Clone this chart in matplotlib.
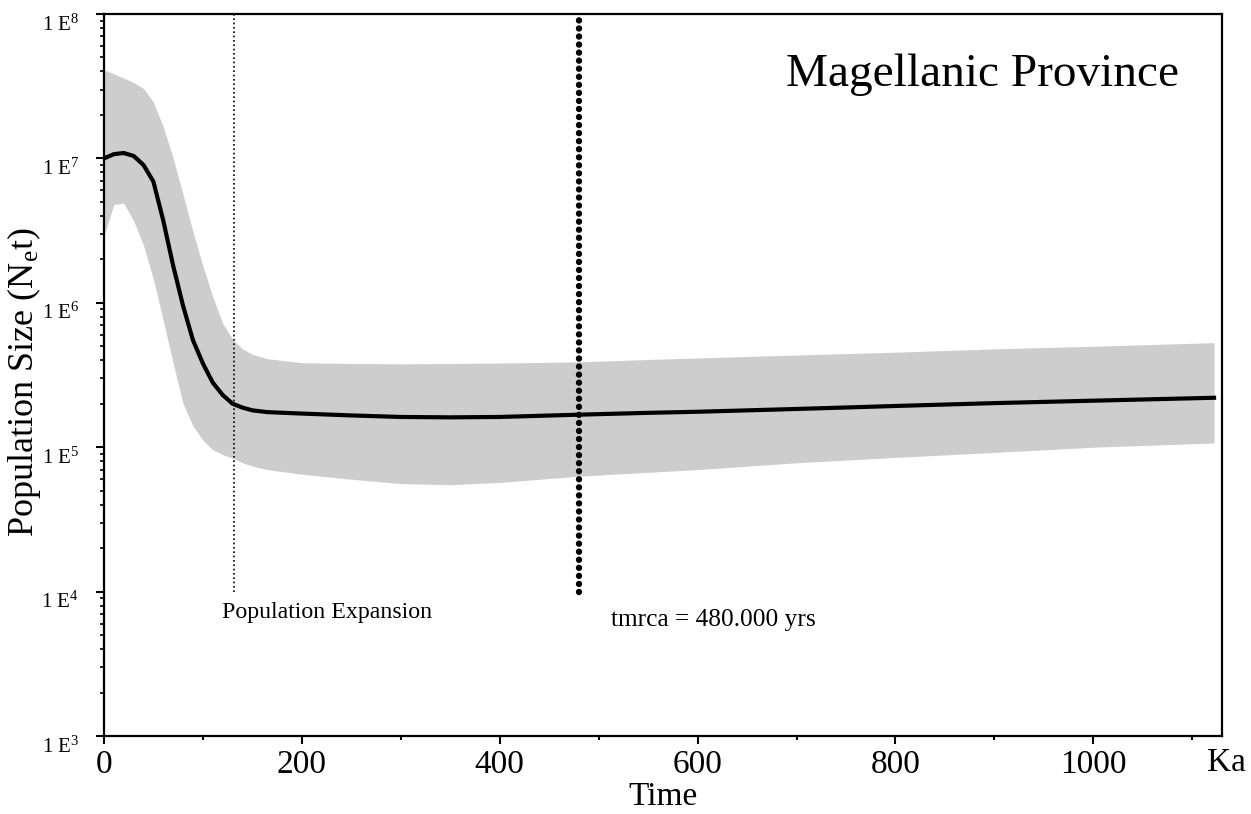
import numpy as np
import matplotlib
matplotlib.use("Agg")
import matplotlib.pyplot as plt
from matplotlib.ticker import FixedLocator, LogLocator, NullFormatter
from matplotlib.transforms import ScaledTranslation

plt.rcParams['font.family'] = ['Liberation Serif', 'DejaVu Serif']
plt.rcParams['mathtext.fontset'] = 'custom'
plt.rcParams['mathtext.rm'] = 'Liberation Serif'
plt.rcParams['mathtext.it'] = 'Liberation Serif:italic'

# Bayesian skyline
time_ka = [0, 10, 20, 30, 40, 50, 60, 70, 80, 90, 100, 110, 120, 130, 140, 150,
           165, 200, 250, 300, 350, 400, 480, 550, 600, 700, 800, 900, 1000, 1122]
median = [1.0e7, 1.07e7, 1.09e7, 1.04e7, 9.0e6, 6.9e6, 3.7e6, 1.8e6, 9.5e5, 5.5e5,
          3.8e5, 2.8e5, 2.3e5, 2.0e5, 1.88e5, 1.8e5, 1.75e5, 1.71e5, 1.66e5, 1.62e5,
          1.61e5, 1.62e5, 1.68e5, 1.73e5, 1.76e5, 1.84e5, 1.93e5, 2.02e5, 2.1e5, 2.2e5]
upper = [4.1e7, 3.85e7, 3.6e7, 3.35e7, 3.05e7, 2.45e7, 1.65e7, 1.0e7, 5.6e6, 3.1e6,
         1.8e6, 1.1e6, 7.2e5, 5.6e5, 4.8e5, 4.4e5, 4.1e5, 3.85e5, 3.8e5, 3.78e5,
         3.8e5, 3.83e5, 3.9e5, 4.05e5, 4.15e5, 4.35e5, 4.55e5, 4.8e5, 5.0e5, 5.3e5]
lower = [2.9e6, 4.8e6, 4.9e6, 3.7e6, 2.5e6, 1.45e6, 7.5e5, 3.8e5, 2.0e5, 1.4e5,
         1.12e5, 9.6e4, 8.9e4, 8.4e4, 7.8e4, 7.4e4, 7.0e4, 6.5e4, 6.0e4, 5.6e4,
         5.5e4, 5.7e4, 6.3e4, 6.7e4, 7.0e4, 7.8e4, 8.5e4, 9.2e4, 1.0e5, 1.07e5]

expansion_ka = 131
tmrca_ka = 480
x_ticks = [0, 200, 400, 600, 800, 1000]
y_exps = [3, 4, 5, 6, 7, 8]

fig = plt.figure(figsize=(12.51, 8.14), dpi=100)
ax = fig.add_axes([0.0831, 0.0958, 0.8937, 0.887])

ax.fill_between(time_ka, lower, upper, color='#cdcdcd', lw=0, zorder=1)
ax.plot(time_ka, median, color='black', lw=3, zorder=3)

# lignes verticales pointillées
ax.plot([expansion_ka, expansion_ka], [1e4, 1e8], color='black', lw=1.2,
        ls=(0, (1, 1.6)), zorder=4, clip_on=False)
ax.plot([tmrca_ka, tmrca_ka], [1e4, 1e8], color='black', lw=4.6,
        ls=(0, (0.01, 1.25)), dash_capstyle='round', zorder=4, clip_on=False)

ax.set_yscale('log')
ax.set_xlim(0, 1130)
ax.set_ylim(1e3, 1e8)

ax.set_xticks(x_ticks)
ax.set_xticklabels([str(t) for t in x_ticks], fontsize=24)
ax.xaxis.set_minor_locator(FixedLocator([100, 300, 500, 700, 900, 1100]))
ax.set_yticks([10.0**e for e in y_exps])
ax.set_yticklabels([r'1 E$^{%d}$' % e for e in y_exps], fontsize=15)
ax.yaxis.set_minor_locator(LogLocator(base=10, subs=np.arange(2, 10)))
ax.yaxis.set_minor_formatter(NullFormatter())

ax.tick_params(axis='x', which='major', length=6, width=1.5, pad=4)
ax.tick_params(axis='x', which='minor', length=3, width=1.5)
ax.tick_params(axis='y', which='major', length=6, width=1.5, pad=12)
ax.tick_params(axis='y', which='minor', length=3, width=1.2)
for sp in ax.spines.values():
    sp.set_linewidth(1.6)

off = ScaledTranslation(0, -6/72, fig.dpi_scale_trans)
for lab in ax.get_yticklabels():
    lab.set_transform(lab.get_transform() + off)

ax.set_xlabel('Time', fontsize=24)
ax.xaxis.set_label_coords(0.5, -0.0845)
ax.xaxis.label.set_va('center')
ax.set_ylabel(r'Population Size (N$_{\mathrm{e}}$t)', fontsize=26)
ax.yaxis.set_label_coords(-0.0715, 0.49)
ax.yaxis.label.set_va('center')

ax.text(0.9866, -0.037, 'Ka', transform=ax.transAxes, fontsize=24,
        ha='left', va='center')
ax.text(0.962, 0.9155, 'Magellanic Province', transform=ax.transAxes,
        fontsize=34, ha='right', va='center')
ax.text(119, 7.2e3, 'Population Expansion', fontsize=17.2, ha='left', va='center')
ax.text(512, 6.4e3, 'tmrca = 480.000 yrs', fontsize=18.3, ha='left', va='center')

plt.savefig('out.png', dpi=100)
